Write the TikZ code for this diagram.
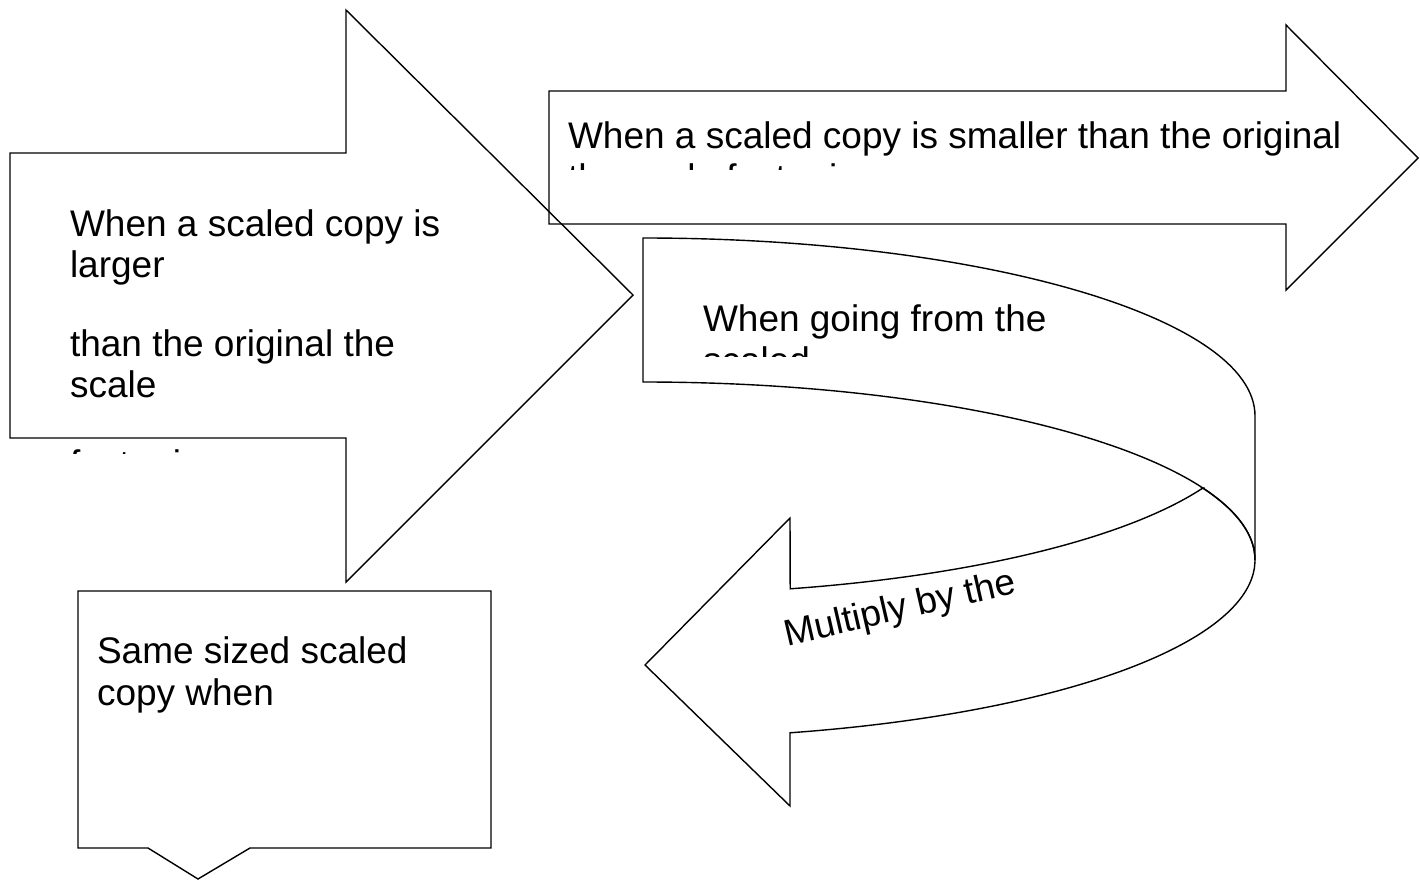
\documentclass[tikz,border=0pt]{standalone}
\usepackage{fontspec}
\setmainfont{Liberation Sans}
\begin{document}
\begin{tikzpicture}[x=1pt,y=1pt,
  shapeline/.style={draw=black,line width=1.4pt,line join=miter},
  txt/.style={anchor=base west,inner sep=0pt,outer sep=0pt,font=\fontsize{37}{42}\selectfont}]
\useasboundingbox (0,0) rectangle (1420,-880);
% left big arrow
\draw[shapeline] (10,-153) -- (346,-153) -- (346,-10) -- (633,-295) -- (346,-582) -- (346,-438) -- (10,-438) -- cycle;
% top right arrow
\draw[shapeline] (549,-91) -- (1286,-91) -- (1286,-25) -- (1418,-158) -- (1286,-290) -- (1286,-224) -- (549,-224) -- cycle;
% curved arrow: upper band
\draw[shapeline] (643,-238) arc[start angle=90,end angle=0,x radius=612,y radius=178]
  -- (1255,-560) arc[start angle=0,end angle=90,x radius=612,y radius=178] -- cycle;
% curved arrow: lower band with head
\draw[shapeline] (1202.7,-488) arc[start angle=23.86,end angle=-76.1,x radius=612,y radius=178]
  -- (790,-806) -- (645,-665) -- (790,-518) -- (790.2,-588.8)
  arc[start angle=-76.1,end angle=-23.86,x radius=612,y radius=178] -- cycle;
% bottom callout
\draw[shapeline] (78,-591) -- (491,-591) -- (491,-848) -- (250,-848) -- (198,-879) -- (148,-848) -- (78,-848) -- cycle;

% texts left arrow
\node[txt] (l1) at (70,-236) {When a scaled copy is};
\node[txt] (l2) at (70,-277) {larger};
\node[txt] (l3) at (70,-356) {than the original the};
\node[txt] (l4) at (70,-397) {scale};
\begin{scope}
  \clip (60,-440) rectangle (500,-453);
  \node[txt] (l5) at (70,-476) {factor is};
\end{scope}
% texts top arrow
\node[txt] (r1) at (568,-148) {When a scaled copy is smaller than the original};
\begin{scope}
  \clip (560,-150) rectangle (1300,-169);
  \node[txt] (r2) at (568,-190) {the scale factor is};
\end{scope}
% texts curved arrow
\node[txt] (c1) at (703,-331) {When going from the};
\begin{scope}
  \clip (690,-340) rectangle (1000,-356);
  \node[txt] (c2) at (703,-373) {scaled};
\end{scope}
\node[txt,rotate=13] (c3) at (787,-646) {Multiply by the};
% texts callout
\node[txt] (b1) at (97,-663) {Same sized scaled};
\node[txt] (b2) at (97,-705) {copy when};
\end{tikzpicture}
\end{document}
